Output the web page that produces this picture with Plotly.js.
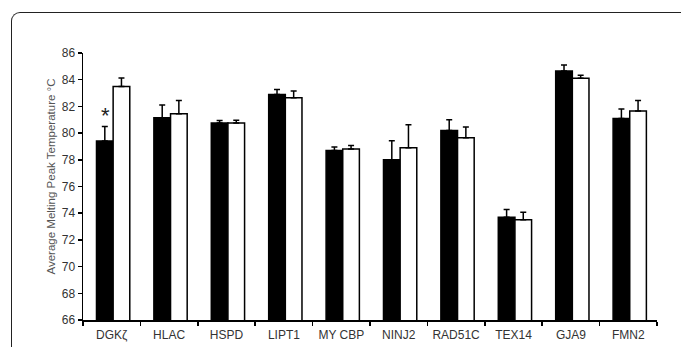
<!DOCTYPE html>
<html>
<head>
<meta charset="utf-8">
<script src="https://cdn.plot.ly/plotly-3.0.1.min.js"></script>
<style>
  html, body { margin: 0; padding: 0; background: #fff; }
  #wrap { position: relative; width: 681px; height: 347px; overflow: hidden; }
  #frame { position: absolute; left: 11px; top: 12px; width: 720px; height: 400px;
           border-left: 1.5px solid #222; border-top: 1.5px solid #222; border-top-left-radius: 9px; }
  #chart { position: absolute; left: 0; top: 0; width: 681px; height: 347px; }
</style>
</head>
<body>
<div id="wrap">
  <div id="frame"></div>
  <div id="chart"></div>
</div>
<script>
const categories = ["DGKζ", "HLAC", "HSPD", "LIPT1", "MY CBP", "NINJ2", "RAD51C", "TEX14", "GJA9", "FMN2"];
const blackValues = [79.4, 81.15, 80.75, 82.9, 78.7, 78.0, 80.2, 73.7, 84.65, 81.1];
const blackErrors = [1.1, 0.95, 0.2, 0.37, 0.25, 1.43, 0.8, 0.57, 0.45, 0.7];
const whiteValues = [83.5, 81.45, 80.75, 82.65, 78.8, 78.9, 79.65, 73.5, 84.1, 81.65];
const whiteErrors = [0.63, 1.0, 0.22, 0.5, 0.27, 1.73, 0.8, 0.58, 0.23, 0.8];
const yTicks = [66, 68, 70, 72, 74, 76, 78, 80, 82, 84, 86];
const yTitle = "Average Melting Peak Temperature °C";
const zeros = categories.map(() => 0);

const font = "Arial, 'Liberation Sans', sans-serif";

const traces = [
  {
    type: "bar", x: categories, y: blackValues,
    width: 0.29, offset: -0.265,
    marker: { color: "#000", line: { color: "#000", width: 1.5 } },
    error_y: { type: "data", symmetric: false, array: blackErrors, arrayminus: zeros,
               color: "#000", thickness: 1.5, width: 3 },
    hoverinfo: "skip"
  },
  {
    type: "bar", x: categories, y: whiteValues,
    width: 0.29, offset: 0.025,
    marker: { color: "#fff", line: { color: "#000", width: 1.5 } },
    error_y: { type: "data", symmetric: false, array: whiteErrors, arrayminus: zeros,
               color: "#000", thickness: 1.5, width: 3 },
    hoverinfo: "skip"
  }
];

const layout = {
  width: 681, height: 347,
  margin: { l: 83, r: 24, t: 53, b: 27 },
  paper_bgcolor: "rgba(0,0,0,0)",
  plot_bgcolor: "rgba(0,0,0,0)",
  showlegend: false,
  font: { family: font, size: 12, color: "#333" },
  xaxis: {
    type: "category",
    range: [-0.5, 9.5],
    showline: true, linecolor: "#000", linewidth: 1.5,
    ticks: "outside", tickson: "boundaries", ticklen: 4, tickwidth: 1.5, tickcolor: "#000",
    ticklabelstandoff: 3,
    showgrid: false, zeroline: false,
    tickfont: { family: font, size: 12, color: "#333" }
  },
  yaxis: {
    range: [66, 86],
    tickvals: yTicks,
    showline: true, linecolor: "#000", linewidth: 1.5,
    ticks: "outside", ticklen: 4, tickwidth: 1.5, tickcolor: "#000",
    showgrid: false, zeroline: false,
    tickfont: { family: font, size: 12, color: "#333" }
  },
  annotations: [
    { x: 0, xref: "paper", xshift: -32, xanchor: "center",
      y: 76.75, yref: "y", yanchor: "middle",
      text: yTitle, textangle: -90, showarrow: false,
      font: { family: font, size: 11.5, color: "#555" } },
    { x: "DGKζ", y: 80.55, xref: "x", yref: "y", text: "*", showarrow: false,
      xshift: -6, yanchor: "bottom", yshift: -4,
      font: { family: font, size: 22, color: "#222" } }
  ]
};

Plotly.newPlot("chart", traces, layout, { staticPlot: true, displayModeBar: false });
</script>
</body>
</html>
